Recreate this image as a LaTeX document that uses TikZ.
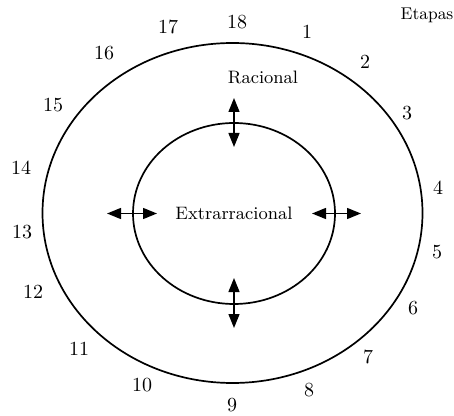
\documentclass[tikz,border=0pt]{standalone}
\usetikzlibrary{arrows.meta,shapes.geometric}
\begin{document}
\begin{tikzpicture}[
  x=0.5pt, y=-0.5pt,
  font=\fontsize{9}{10}\selectfont,
  ring/.style={draw, ellipse, line width=0.85pt, inner sep=0pt, outer sep=0pt},
  stage/.style={inner sep=0pt, font=\fontsize{10}{11}\selectfont},
  swap/.style={{Triangle[length=7pt,width=5.5pt]}-{Triangle[length=7pt,width=5.5pt]}, line width=0.7pt}
]
\useasboundingbox (0,0) rectangle (454,416);
\node[ring, minimum width=190pt, minimum height=170pt] (outer) at (232.5,213) {};
\node[ring, minimum width=101pt, minimum height=90.5pt] (inner) at (234,213.5) {Extrarracional};
\node[inner sep=0pt] (racional) at (263,77) {Racional};
\node[inner sep=0pt, font=\fontsize{8.5}{10}\selectfont] (etapas) at (427,15) {Etapas};
% etapas numeradas alrededor del anillo
\foreach \n/\x/\y in {1/307/32, 2/365/62, 3/407/113, 4/438/188, 5/437/252,
    6/413/308, 7/368/357, 8/309/390, 9/232/405, 10/142/385, 11/79/349,
    12/33/292, 13/22/232, 14/21/168, 15/53/105, 16/104/53, 17/168/27, 18/237/22}
  \node[stage] (s\n) at (\x,\y) {\n};
% flechas de intercambio
\draw[swap] ([yshift=12.5pt]inner.north) -- ([yshift=-12pt]inner.north);
\draw[swap] ([yshift=13pt]inner.south) -- ([yshift=-12pt]inner.south);
\draw[swap] ([xshift=-13pt]inner.west) -- ([xshift=12pt]inner.west);
\draw[swap] ([xshift=-11.5pt]inner.east) -- ([xshift=13pt]inner.east);
\end{tikzpicture}
\end{document}
